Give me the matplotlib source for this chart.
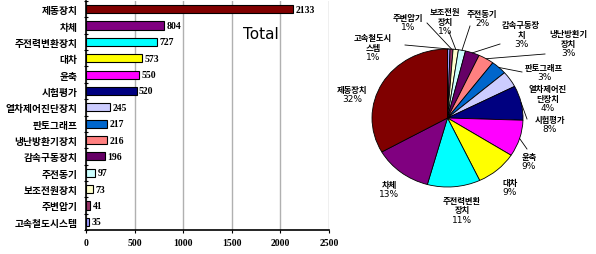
import numpy as np
import matplotlib
matplotlib.use("Agg")
import matplotlib.pyplot as plt

plt.rcParams['font.family'] = ['Noto Sans CJK KR', 'DejaVu Sans']

# --- data (bar order: top to bottom) ---
categories = ['제동장치', '차체', '주전력변환장치', '대차', '윤축', '시험평가',
              '열차제어진단장치', '판토그래프', '냉난방환기장치', '감속구동장치',
              '주전동기', '보조전원장치', '주변압기', '고속철도시스템']
values = [2133, 804, 727, 573, 550, 520, 245, 217, 216, 196, 97, 73, 41, 35]
pct_labels = ['32%', '13%', '11%', '9%', '9%', '8%', '4%', '3%', '3%', '3%',
              '2%', '1%', '1%', '1%']
pie_names = ['제동장치', '차체', '주전력변환\n장치', '대차', '윤축', '시험평가',
             '열차제어진\n단장치', '판토그래프', '냉난방환기\n장치', '감속구동장\n치',
             '주전동기', '보조전원\n장치', '주변압기', '고속철도시\n스템']
colors = ['#800000', '#800080', '#00FFFF', '#FFFF00', '#FF00FF', '#000080',
          '#CCCCFF', '#0066CC', '#FF8080', '#660066', '#CCFFFF', '#FFFFCC',
          '#993366', '#9999FF']
xticks = [0, 500, 1000, 1500, 2000, 2500]

W, H = 596, 255
fig = plt.figure(figsize=(W / 100, H / 100), dpi=100)

# ---------------- bar chart ----------------
ax = fig.add_axes([86 / W, 1 - 231 / H, (329 - 86) / W, (231 - 2) / H])
n = len(values)
ypos = np.arange(n)
ax.barh(ypos, values, height=0.5, color=colors, edgecolor='black', linewidth=0.8, zorder=3)
ax.set_ylim(n - 0.5, -0.5)
ax.set_xlim(0, 2500)
ax.set_yticks(ypos)
ax.set_yticklabels(categories, fontsize=7, fontweight='bold')
ax.set_yticks(np.arange(n + 1) - 0.5, minor=True)
ax.tick_params(axis='y', which='major', length=0, pad=6)
ax.tick_params(axis='y', which='minor', length=3, width=0.8, direction='inout')
ax.set_xticks(xticks)
ax.set_xticklabels([str(t) for t in xticks], fontsize=7, fontweight='bold',
                   family='Liberation Serif')
ax.tick_params(axis='x', length=2, pad=4)
ax.grid(axis='x', color='#b0b0b0', linewidth=1, zorder=0)
for s in ['top', 'right']:
    ax.spines[s].set_visible(False)
ax.spines['left'].set_linewidth(1.2)
ax.spines['bottom'].set_linewidth(1.2)
for y, v in zip(ypos, values):
    ax.text(v + 25, y, str(v), va='center', ha='left', fontsize=7,
            fontweight='bold', family='Liberation Serif', zorder=4)
ax.text(1620, 1.5, 'Total', fontsize=11, ha='left', va='center', family='DejaVu Sans')

# ---------------- pie chart ----------------
cx, cy, rx, ry = 447.5, 119, 75.5, 69
pax = fig.add_axes([(cx - rx) / W, 1 - (cy + ry) / H, 2 * rx / W, 2 * ry / H])
pie_vals = values[::-1]
pie_cols = colors[::-1]
wedges, _ = pax.pie(pie_vals, colors=pie_cols, startangle=90, counterclock=False,
                    wedgeprops={'edgecolor': 'black', 'linewidth': 0.6})
pax.set_aspect('auto')
pax.set_xlim(-1, 1)
pax.set_ylim(-1, 1)
pax.axis('off')


def to_data(px, py):
    return (px - cx) / rx, (cy - py) / ry


# label block centers (pixels), in bar order
label_pos = [(352, 95), (389, 190), (462, 211), (510, 188), (529, 162), (550, 125),
             (548, 99), (544, 73), (568, 44), (521, 35), (482, 19), (445, 22),
             (408, 23), (373, 48)]
# leader line ends on label side (pixels), None = no leader
leader_end = [None, None, None, None, (527, 150), (527, 120), None, (522, 73),
              (545, 55), (500, 45), (470, 27), (449, 33), (427, 24), (405, 46)]

wedge_by_cat = wedges[::-1]
for i in range(n):
    name = pie_names[i]
    nlines = name.count('\n') + 1
    lx, ly = label_pos[i]
    line_h = 9.5
    top = ly - (nlines + 1) * line_h / 2
    for k, part in enumerate(name.split('\n')):
        px, py = to_data(lx, top + line_h * (k + 0.5))
        pax.text(px, py, part, ha='center', va='center', fontsize=6, fontweight='bold')
    px, py = to_data(lx, top + line_h * (nlines + 0.5))
    pax.text(px, py, pct_labels[i], ha='center', va='center', fontsize=6.5,
             family='DejaVu Sans')
    if leader_end[i] is not None:
        w = wedge_by_cat[i]
        mid = np.deg2rad((w.theta1 + w.theta2) / 2)
        ex, ey = np.cos(mid), np.sin(mid)
        lxd, lyd = to_data(*leader_end[i])
        pax.plot([ex, lxd], [ey, lyd], color='black', linewidth=0.6, clip_on=False)

fig.savefig('out.png', dpi=100)
